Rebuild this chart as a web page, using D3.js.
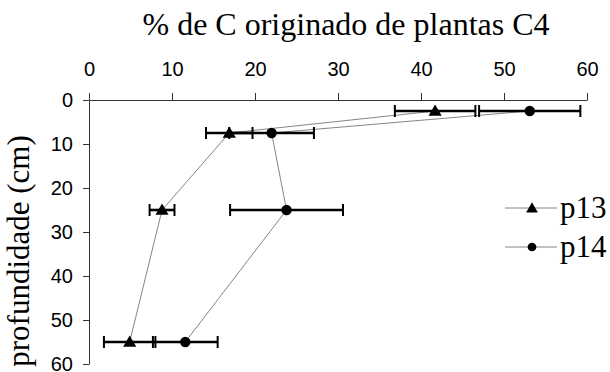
<!DOCTYPE html>
<html>
<head>
<meta charset="utf-8">
<script src="https://cdn.jsdelivr.net/npm/d3@7"></script>
<style>
  body { margin: 0; background: #fff; }
  svg { display: block; }
</style>
</head>
<body>
<svg id="chart" width="610" height="372"></svg>
<script>
// depth of each sample (cm) and % of C from C4 plants, with error
const depths = [2.5, 7.5, 25, 55]
const p13 = [41.7, 16.9, 8.8, 4.9]
const p13Err = [4.85, 2.8, 1.5, 3.1]
const p14 = [53.1, 22, 23.8, 11.6]
const p14Err = [6.1, 5.1, 6.8, 3.9]
const xTicks = [0, 10, 20, 30, 40, 50, 60]
const yTicks = [0, 10, 20, 30, 40, 50, 60]

const series = [
  {name: 'p13', values: p13, err: p13Err, symbol: d3.symbolTriangle},
  {name: 'p14', values: p14, err: p14Err, symbol: d3.symbolCircle}
]

const svg = d3.select('#chart')
const x = d3.scaleLinear().domain([0, 60]).range([89, 587])
const y = d3.scaleLinear().domain([0, 60]).range([100, 364])

const xAxis = svg.append('g')
  .attr('transform', `translate(0,${y(0)})`)
  .call(d3.axisTop(x).tickValues(xTicks).tickSize(7).tickSizeOuter(0).tickPadding(17))
const yAxis = svg.append('g')
  .attr('transform', `translate(${x(0)},0)`)
  .call(d3.axisLeft(y).tickValues(yTicks).tickSize(6).tickSizeOuter(0).tickPadding(10))

;[xAxis, yAxis].forEach(g => {
  g.selectAll('path, line').attr('stroke', '#333').attr('stroke-width', 1)
  g.selectAll('text')
    .attr('fill', '#000')
    .style('font-family', '"Liberation Sans", Arial, sans-serif')
    .style('font-size', '20px')
})

// connecting lines
const line = d3.line()
  .x(d => x(d[0]))
  .y(d => y(d[1]))

series.forEach(s => {
  svg.append('path')
    .datum(s.values.map((v, i) => [v, depths[i]]))
    .attr('d', line)
    .attr('fill', 'none')
    .attr('stroke', '#777')
    .attr('stroke-width', 0.9)
})

// error bars
series.forEach(s => {
  const g = svg.append('g').attr('class', 'err-' + s.name)
  s.values.forEach((v, i) => {
    const yy = y(depths[i])
    const lo = x(v - s.err[i])
    const hi = x(v + s.err[i])
    g.append('line')
      .attr('x1', lo).attr('x2', hi)
      .attr('y1', yy).attr('y2', yy)
      .attr('stroke', '#000').attr('stroke-width', 2.6)
    ;[lo, hi].forEach(cx => {
      g.append('line')
        .attr('x1', cx).attr('x2', cx)
        .attr('y1', yy - 6).attr('y2', yy + 6)
        .attr('stroke', '#000').attr('stroke-width', 2)
    })
  })
})

// markers
series.forEach(s => {
  const sym = d3.symbol().type(s.symbol).size(s.name == 'p13' ? 75 : 85)
  svg.append('g').selectAll('path')
    .data(s.values)
    .join('path')
    .attr('d', sym)
    .attr('transform', (v, i) => `translate(${x(v)},${y(depths[i]) + (s.name == 'p13' ? 1 : 0)})`)
    .attr('fill', '#000')
})

// title and axis label
svg.append('text')
  .attr('x', 346).attr('y', 35)
  .attr('text-anchor', 'middle')
  .style('font-family', '"Liberation Serif", "Times New Roman", serif')
  .style('font-size', '32px')
  .text('% de C originado de plantas C4')

svg.append('text')
  .attr('transform', 'translate(29,251) rotate(-90)')
  .attr('text-anchor', 'middle')
  .style('font-family', '"Liberation Serif", "Times New Roman", serif')
  .style('font-size', '31px')
  .text('profundidade (cm)')

// legend
const legend = svg.append('g')
series.forEach((s, i) => {
  const ly = 208 + i * 39
  legend.append('line')
    .attr('x1', 505).attr('x2', 557)
    .attr('y1', ly).attr('y2', ly)
    .attr('stroke', '#777').attr('stroke-width', 0.9)
  legend.append('path')
    .attr('d', d3.symbol().type(s.symbol).size(s.name == 'p13' ? 60 : 60))
    .attr('transform', `translate(532,${ly + (s.name == 'p13' ? 1 : 0)})`)
    .attr('fill', '#000')
  legend.append('text')
    .attr('x', 560).attr('y', ly + 10)
    .style('font-family', '"Liberation Serif", "Times New Roman", serif')
    .style('font-size', '31px')
    .text(s.name)
})
</script>
</body>
</html>
